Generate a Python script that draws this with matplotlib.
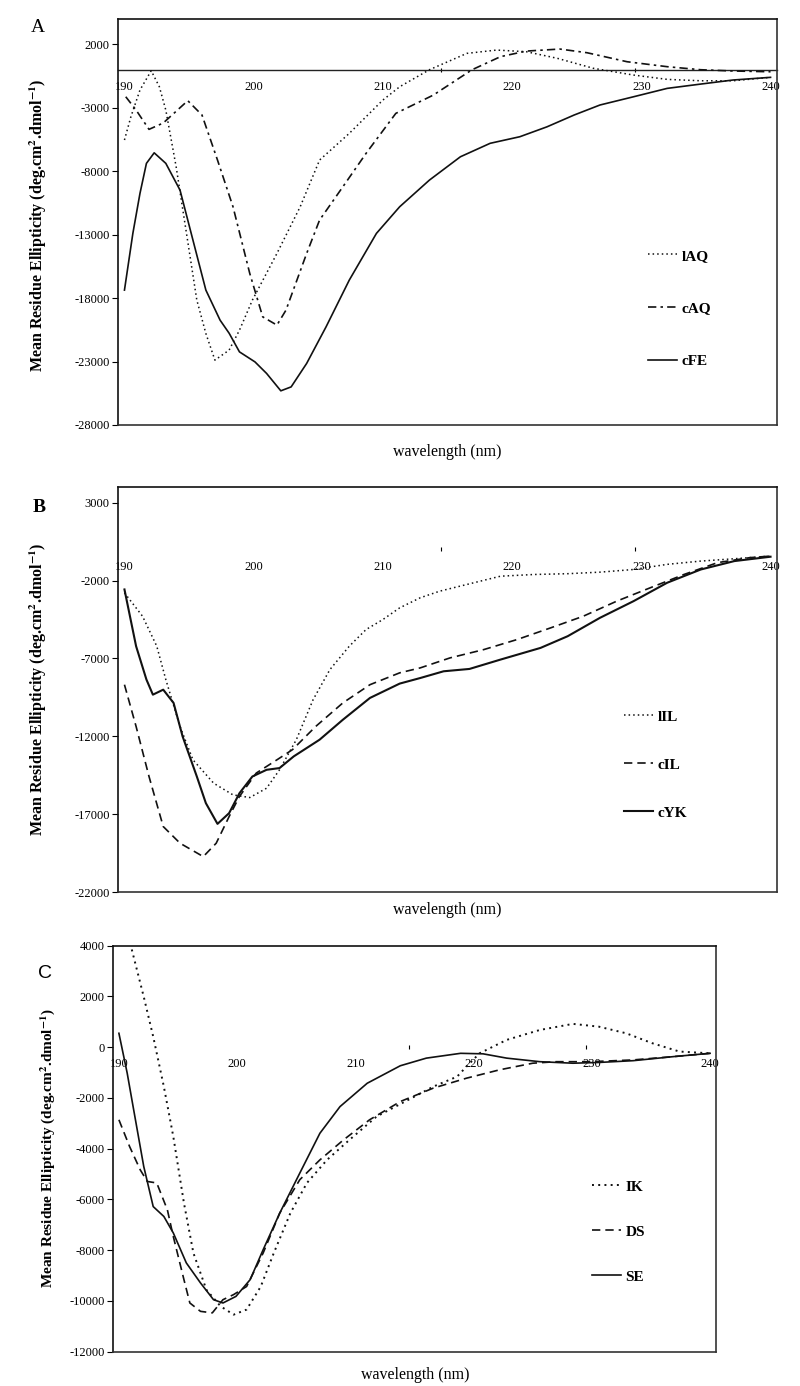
import matplotlib
matplotlib.use("Agg")
import matplotlib.pyplot as plt

plt.rcParams['font.family'] = ['Liberation Serif', 'DejaVu Serif']
plt.rcParams['mathtext.fontset'] = 'stix'

# ---------------- Panel A data ----------------
wl_lAQ = [190, 190.5, 191.2, 192.07, 192.7, 193.2, 194, 194.8, 195.6, 196.3, 197, 198.1, 198.9, 199.9,
          201.8, 203.6, 205.1, 207.4, 210, 211.3, 213.6, 216.5, 218.8, 221.1, 223.5, 226.3, 229.4,
          232, 234.6, 237.1, 240]
val_lAQ = [-5540, -3700, -1600, -80, -1340, -3180, -7650, -12900, -18160, -20790, -22890, -22100, -20530,
           -18160, -14480, -10800, -7120, -5015, -2390, -1340, 0, 1290, 1550, 1420, 900, 110, -420,
           -760, -870, -870, -600]
wl_cAQ = [190.1, 190.9, 191.9, 193, 194.9, 196, 197.2, 198.4, 199.7, 200.7, 201.8, 202.5, 204.1, 205.1,
          206.9, 208.7, 211, 213.9, 216.9, 219.1, 221.1, 223.7, 225.8, 228.9, 232, 234.6, 237.1, 240]
val_cAQ = [-2130, -3180, -4700, -4200, -2440, -3570, -7120, -10800, -16070, -19480, -20130, -18950,
           -14480, -11850, -9230, -6590, -3440, -2000, 0, 1030, 1470, 1630, 1340, 630, 240, 0, -100, -160]
wl_cFE = [190, 190.65, 191.2, 191.7, 192.3, 193.2, 194.3, 195.3, 196.3, 197.4, 198.1, 198.9, 200.1, 201,
          202.1, 202.9, 204.1, 205.6, 207.4, 209.5, 211.3, 213.6, 216, 218.3, 220.6, 222.7, 224.8,
          226.8, 229.4, 232, 234.6, 237.1, 240]
val_cFE = [-17370, -12900, -9750, -7380, -6550, -7380, -9490, -13430, -17370, -19740, -20770, -22240,
           -23030, -23940, -25310, -25000, -23150, -20270, -16580, -12900, -10800, -8700, -6860, -5800,
           -5280, -4500, -3570, -2780, -2130, -1470, -1130, -810, -600]

# ---------------- Panel B data ----------------
wl_lIL = [190, 191.4, 192.5, 193.2, 194.3, 195.3, 196.9, 198.4, 199.7, 201, 202, 203.3, 204.6, 205.9,
          207.4, 208.7, 210, 211.3, 212.9, 214.4, 216.5, 219.1, 221.7, 224.3, 226.8, 229.4, 232,
          234.6, 237.2, 240]
val_lIL = [-2790, -4290, -6210, -8350, -11360, -13500, -15000, -15750, -15920, -15320, -14140, -12210,
           -9640, -7710, -6210, -5140, -4500, -3750, -3100, -2680, -2250, -1720, -1610, -1560, -1460,
           -1290, -960, -750, -600, -430]
wl_cIL = [190, 190.9, 191.9, 193, 194.3, 196.1, 197.1, 198.1, 198.9, 200.2, 201.8, 203, 204.8, 206.9,
          209, 211.3, 212.9, 215.2, 217.8, 220.4, 223, 225.5, 228.1, 230.7, 233.3, 235.9, 238.4, 240]
val_cIL = [-8680, -11360, -14570, -17780, -18850, -19710, -18850, -17140, -15850, -14350, -13500,
           -12850, -11360, -9850, -8680, -7920, -7600, -6960, -6430, -5780, -5030, -4290, -3320,
           -2460, -1610, -850, -530, -430]
wl_cYK = [190, 190.9, 191.7, 192.2, 193, 193.8, 194.5, 195.6, 196.3, 197.2, 198.1, 198.9, 199.9, 201,
          202, 203.1, 205.1, 206.9, 209, 211.3, 212.9, 214.7, 216.7, 219.1, 222.2, 224.3, 226.8,
          229.4, 232, 234.6, 237.2, 240]
val_cYK = [-2570, -6210, -8350, -9320, -9000, -9850, -12000, -14570, -16280, -17610, -16920, -15640,
           -14570, -14140, -14030, -13280, -12210, -10930, -9530, -8610, -8250, -7820, -7670, -7070,
           -6320, -5570, -4390, -3320, -2140, -1290, -750, -470]

# ---------------- Panel C data ----------------
wl_IK = [190, 191.1, 192.1, 192.9, 193.8, 194.6, 195.5, 196.3, 197.4, 198.6, 199.7, 200.8, 202, 203.1,
         204.5, 205.9, 207.6, 209.5, 211.8, 213.8, 216.6, 218.6, 219.4, 220.5, 222.8, 225.6, 228.4,
         230.6, 232.9, 235.1, 237.4, 240]
val_IK = [6000, 3830, 1990, 420, -1550, -3520, -6140, -8110, -9560, -10210, -10540, -10340, -9430,
          -8110, -6540, -5350, -4440, -3650, -2730, -2240, -1550, -1160, -760, -240, 290, 680, 920,
          810, 550, 160, -170, -240]
wl_DS = [190, 190.9, 191.8, 192.4, 193.2, 194.1, 194.6, 195.5, 196, 196.9, 197.9, 198.8, 199.7, 200.8,
         202.2, 203.6, 205.3, 207, 209, 211.2, 213.8, 216.6, 219.4, 222.2, 225, 227, 229.9, 233.5,
         236.9, 240]
val_DS = [-2860, -3910, -4830, -5290, -5350, -6410, -7460, -9160, -10080, -10410, -10470, -9950, -9750,
          -9430, -8110, -6540, -5220, -4440, -3650, -2860, -2140, -1610, -1220, -890, -630, -570,
          -570, -500, -370, -240]
wl_SE = [190, 190.7, 191.2, 192.1, 192.9, 193.8, 194.6, 195.7, 196.9, 198, 198.8, 199.9, 201.1, 202.2,
         203.6, 205.3, 207, 208.7, 211, 213.8, 216, 218.9, 220.8, 222.8, 225.6, 228.4, 230.6, 233.5,
         236.9, 240]
val_SE = [550, -1020, -2340, -4700, -6280, -6670, -7320, -8500, -9290, -9950, -10080, -9820, -9160,
          -7980, -6540, -4960, -3390, -2340, -1420, -730, -430, -240, -260, -430, -570, -630, -600,
          -530, -370, -240]

x_ticks = [190, 200, 210, 220, 230, 240]
x_minor = [214.5, 229.5]
yticks_A = [-28000, -23000, -18000, -13000, -8000, -3000, 2000]
yticks_B = [-22000, -17000, -12000, -7000, -2000, 3000]
yticks_C = [-12000, -10000, -8000, -6000, -4000, -2000, 0, 2000, 4000]

ylabel = r"Mean Residue Ellipticity (deg.cm$^{\mathbf{2}}$.dmol$^{\mathbf{-1}}$)"

fig = plt.figure(figsize=(8.0, 13.86), dpi=100)

DOT = (0, (1, 2))
DASHDOT = (0, (5, 2.5, 1.5, 2.5))
DASH = (0, (5, 3))


def setup(ax, ylim, yticks, zero_line):
    ax.set_xlim(189.5, 240.5)
    ax.set_ylim(*ylim)
    ax.set_yticks(yticks)
    ax.set_yticklabels([str(t) for t in yticks])
    ax.tick_params(axis='y', direction='out', length=4, width=0.8, pad=2, labelsize=9)
    ax.tick_params(axis='x', bottom=False, labelbottom=False)
    for s in ax.spines.values():
        s.set_linewidth(1.2)
        s.set_color('#333333')
    ax.spines['top'].set_color('#111111')
    ax.spines['left'].set_color('#111111')
    sec = ax.secondary_xaxis(0, transform=ax.transData)
    sec.set_xticks(x_ticks)
    sec.set_xticklabels([str(t) for t in x_ticks])
    sec.set_xticks(x_minor, minor=True)
    sec.tick_params(axis='x', which='major', length=0, pad=8, labelsize=9)
    sec.tick_params(axis='x', which='minor', length=3, width=0.8, direction='inout')
    sec.spines['bottom'].set_visible(zero_line)
    sec.spines['bottom'].set_linewidth(1.0)
    sec.spines['bottom'].set_color('#222222')


# Panel A
axA = fig.add_axes([0.1475, 0.6934, 0.82375, 0.2929])
setup(axA, (-28000, 4000), yticks_A, True)
axA.plot(wl_lAQ, val_lAQ, color='#111111', lw=1.1, linestyle=DOT, label='lAQ')
axA.plot(wl_cAQ, val_cAQ, color='#111111', lw=1.2, linestyle=DASHDOT, label='cAQ')
axA.plot(wl_cFE, val_cFE, color='#111111', lw=1.2, linestyle='-', label='cFE')

# Panel B
axB = fig.add_axes([0.1475, 0.3562, 0.82375, 0.2924])
setup(axB, (-22000, 4000), yticks_B, False)
axB.plot(wl_lIL, val_lIL, color='#111111', lw=1.1, linestyle=DOT, label='lIL')
axB.plot(wl_cIL, val_cIL, color='#111111', lw=1.2, linestyle=DASH, label='cIL')
axB.plot(wl_cYK, val_cYK, color='#111111', lw=1.5, linestyle='-', label='cYK')

# Panel C
axC = fig.add_axes([0.14125, 0.02475, 0.75375, 0.2929])
setup(axC, (-12000, 4000), yticks_C, False)
axC.plot(wl_IK, val_IK, color='#111111', lw=1.4, linestyle=(0, (1, 2.2)), label='IK')
axC.plot(wl_DS, val_DS, color='#111111', lw=1.2, linestyle=DASH, label='DS')
axC.plot(wl_SE, val_SE, color='#111111', lw=1.2, linestyle='-', label='SE')


def legend(ax, x, y, spacing):
    ax.legend(loc='upper left', bbox_to_anchor=(x, y), bbox_transform=fig.transFigure,
              frameon=False, handlelength=1.9, handletextpad=0.3, labelspacing=spacing,
              borderpad=0, borderaxespad=0,
              prop={'family': 'Liberation Serif', 'weight': 'bold', 'size': 11})


legend(axA, 648 / 800, 1 - 249 / 1386, 2.55)
legend(axB, 624 / 800, 1 - 710 / 1386, 2.25)
legend(axC, 592 / 800, 1 - 1180 / 1386, 2.05)

# y labels
fig.text(38 / 800, 1 - 225 / 1386, ylabel, rotation=90, ha='center', va='center',
         fontsize=11.5, fontweight='bold')
fig.text(38 / 800, 1 - 689 / 1386, ylabel, rotation=90, ha='center', va='center',
         fontsize=11.5, fontweight='bold')
fig.text(48 / 800, 1 - 1148 / 1386, ylabel, rotation=90, ha='center', va='center',
         fontsize=11, fontweight='bold')

# x labels
fig.text(447 / 800, 1 - 452 / 1386, "wavelength (nm)", ha='center', va='center', fontsize=11.5)
fig.text(447 / 800, 1 - 910 / 1386, "wavelength (nm)", ha='center', va='center', fontsize=11.5)
fig.text(415 / 800, 1 - 1375 / 1386, "wavelength (nm)", ha='center', va='center', fontsize=11.5)

# panel letters
fig.text(38 / 800, 1 - 27 / 1386, "A", ha='center', va='center', fontsize=14)
fig.text(39 / 800, 1 - 507 / 1386, "B", ha='center', va='center', fontsize=14, fontweight='bold')
fig.text(45 / 800, 1 - 973 / 1386, "C", ha='center', va='center', fontsize=14,
         family=['Liberation Sans', 'DejaVu Sans'])

fig.savefig("out.png", dpi=100)
